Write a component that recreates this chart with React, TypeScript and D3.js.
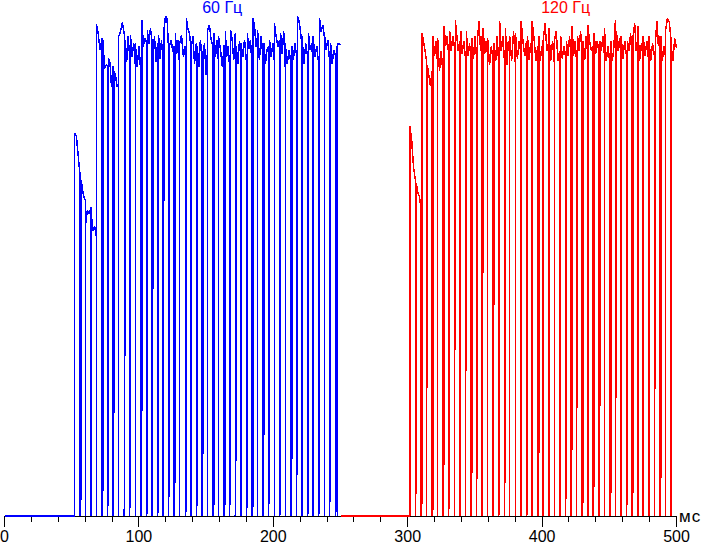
import React from 'react';
import * as d3 from 'd3';

const W = 703;
const H = 544;

// axis
const xTicksMajor = [0, 100, 200, 300, 400, 500];
const xUnit = 'мс';
const titles = ['60 Гц', '120 Гц'];

// 60 Hz (blue) trace
const blueOn = 52.1;
const blueOff = 250.6;
// [time ms, partial level reached on the way back up]
const blueDips: [number, number][] = [
  [56.35, 6], [60.3, 0], [64.3, 0], [68.3, 0], [72.5, 6], [76.7, 11], [80.7, 26], [84.9, 0],
  [89.1, 62], [93.0, 6], [97.3, 0], [101.5, 25], [105.5, 1], [109.7, 55], [113.9, 4], [117.9, 78],
  [122.1, 23], [126.3, 13], [130.3, 0], [134.5, 1.5], [138.8, 0], [142.7, 4], [146.9, 15], [151.1, 0],
  [155.1, 2.6], [159.3, 0], [163.5, 4.4], [167.5, 15.6], [171.7, 22], [176.0, 0], [179.9, 3.4], [184.2, 2.6],
  [188.3, 0], [192.3, 20], [196.5, 14], [200.8, 0], [204.7, 2], [208.9, 0], [213.2, 16], [217.1, 17],
  [221.4, 0], [225.5, 2.4], [229.6, 0], [233.7, 2.4], [238.0, 0], [241.9, 19], [246.2, 2], [247.9, 0],
];
const blueTops: number[][] = [
  [76.6, 75.9, 71.8, 67.8], [67.2, 65, 63.6, 63.2], [58.2, 61.1, 60.5, 61.7], [61.5, 57, 58, 56],
  [98.4, 96.5, 93.2, 95.5], [95.2, 89.5, 90.2, 89.9], [91.5, 90.5, 85.9, 89.9], [88.9, 88.2, 85.9, 86.2],
  [95.9, 96.9, 98.7, 96.5], [95.2, 90.9, 95.9, 92.5], [96.2, 91.9, 94.5, 90.5], [94.5, 89.9, 93.9, 88.2],
  [99.1, 93.9, 95.5, 94.9], [97.2, 94.5, 97.5, 95.2], [92.5, 95.9, 90.9, 94.5], [96.2, 91.5, 95.2, 91.2],
  [97.2, 100, 99.5, 93.2], [94.2, 95.2, 92.9, 93.9], [96.5, 92.5, 95.2, 89.9], [94.5, 96.2, 91.9, 93.9],
  [99.5, 97.5, 96.5, 93.5], [93.2, 95.9, 90.5, 94.5], [93.9, 89.9, 95.2, 91.5], [92.5, 94.5, 88.2, 93.2],
  [97.2, 98.2, 95.2, 93.9], [96.5, 91.9, 95.2, 90.5], [95.9, 93.2, 89.9, 94.2], [96.9, 91.9, 93.9, 89.9],
  [97.2, 95.2, 91.2, 96.5], [93.9, 90.5, 94.9, 92.5], [94.5, 91.9, 95.2, 91.2], [96.5, 93.5, 95.2, 89.9],
  [99.5, 97.9, 93.9, 95.9], [97.2, 91.2, 95.9, 91.9], [94.5, 90.5, 93.2, 93.9], [95.2, 91.9, 94.5, 90.9],
  [98.5, 95.9, 93.9, 95.2], [96.5, 92.5, 96.9, 89.9], [94.5, 90.5, 93.2, 90.2], [93.9, 91.2, 94.5, 92.5],
  [100, 99.2, 96.9, 93.9], [95.9, 90.5, 94.5, 91.9], [96.5, 93.2, 94.5, 90.9], [95.9, 91.9, 93.9, 90.5],
  [99.5, 96.9, 98.2, 95.9], [96.5, 93.2, 95.2, 90.9], [94.5, 90.5, 93.2, 92.2], [93.9, 91.2], [94.5, 94.2],
];

// 120 Hz (red) trace
const redOn = 301.6;
const redOff = 500;
const redDips: [number, number][] = [
  [305.7, 11], [310.0, 3.9], [313.9, 66], [318.1, 1.7], [322.3, 0], [326.3, 14.2], [330.5, 20.2], [334.7, 77],
  [338.7, 1], [342.9, 71], [347.2, 13.9], [351.1, 19.7], [355.4, 80], [359.5, 0], [363.6, 72], [367.7, 1.7],
  [372.0, 22.4], [375.9, 0], [380.2, 0], [384.4, 0], [388.4, 1], [392.6, 0], [396.8, 13.2], [400.8, 0],
  [405.0, 0], [409.2, 0], [413.1, 1], [417.4, 11.7], [421.6, 20.9], [425.6, 82], [429.8, 4.4], [434.0, 0],
  [438.0, 10], [442.2, 23.2], [446.4, 0], [450.4, 5], [454.6, 81], [458.8, 0], [462.8, 8.2], [467.0, 7.4],
  [471.2, 0], [475.2, 0], [479.4, 0], [483.6, 83], [487.6, 8.2], [491.8, 0], [496.0, 0],
];
const redTops: number[][] = [
  [78, 75.2, 69.8, 67.2], [66.5, 64.6, 63.8, 61.2], [96.5, 94.9, 93.2, 91.2], [90.2, 88, 86, 89],
  [95.9, 92, 95, 90], [95.5, 89, 93, 88], [97.9, 94, 96, 92], [97, 93, 96, 94],
  [99.2, 96, 93, 95], [97, 92.5, 95, 91.9], [96.9, 92, 94.5, 91.2], [95.5, 91.5, 96, 92],
  [95, 98.9, 93, 96], [97.5, 92.5, 95, 92], [95.5, 90.2, 93.9, 91], [94.5, 91, 96, 90.5],
  [98.9, 93, 96, 91], [97.5, 90.2, 95, 92], [96, 91, 97, 90], [96.5, 91.5, 95, 92],
  [99, 95, 92, 95], [95.9, 91.2, 94.5, 92.5], [98.9, 95.5, 91, 94], [96, 91, 94, 92],
  [95, 98.5, 93, 95], [97.5, 91, 95, 90.2], [95, 97, 91, 93], [96, 91.5, 94, 92],
  [95, 92, 96, 91], [97.9, 92, 95, 91.2], [96, 93, 97, 92], [95, 91.2, 96, 92],
  [98.2, 95, 93, 94], [96.5, 92.5, 95, 93], [95, 93, 96, 92], [97.5, 91, 94, 90.5],
  [95, 91, 94, 99.2], [97, 93, 95.5, 91], [96, 91.5, 95, 92], [95, 93, 96.5, 91],
  [96, 98.5, 93, 95], [97.9, 91, 94.5, 91.5], [96, 92, 95, 90.5], [96, 91, 94.5, 92],
  [95, 99, 94, 96], [95.9, 91, 94, 92], [97, 99.5, 98.9, 95], [94, 91, 95.5, 93.5],
];

const BLUE = '#0000ff';
const RED = '#ff0000';
const FONT = '"Liberation Sans", Arial, sans-serif';

const x = d3.scaleLinear().domain([0, 500]).range([4.5, 676.5]);
const y = d3.scaleLinear().domain([0, 100]).range([516, 16]);

function buildTrace(onT: number, offT: number, dips: [number, number][], tops: number[][], delta = 0.75) {
  const pts: [number, number][] = [[onT, 0]];
  let tRise = onT;
  for (let g = 0; g < tops.length; g++) {
    const vals = tops[g];
    const tEnd = g < dips.length ? dips[g][0] : offT;
    const n = vals.length;
    for (let j = 0; j < n; j++) {
      const t = n === 1 ? tRise : tRise + (j * (tEnd - tRise)) / (n - 1);
      pts.push([t, vals[j]]);
    }
    if (g < dips.length) {
      const [td, m] = dips[g];
      pts.push([td, 0]);
      if (m > 0) {
        tRise = td + delta;
        pts.push([tRise, m]);
      } else {
        tRise = td;
      }
    }
  }
  return pts;
}

const line = d3
  .line<[number, number]>()
  .x((d) => x(d[0]))
  .y((d) => y(d[1]));

export default function App() {
  const bluePts = buildTrace(blueOn, blueOff, blueDips, blueTops);
  const redPts = buildTrace(redOn, redOff, redDips, redTops);
  const minor = d3.range(0, 501, 20);
  const sw = 1.5;
  return (
    <svg
      width={W}
      height={H}
      style={{ position: 'absolute', left: 0, top: 0, background: '#fff' }}
      fontFamily={FONT}
    >
      <rect x={0} y={0} width={W} height={H} fill="#fff" />
      {/* axis */}
      <line x1={x(0) - 0.5} x2={x(500) + 0.5} y1={516.5} y2={516.5} stroke="#000" strokeWidth={1} shapeRendering="crispEdges" />
      {minor.map((t) => {
        const major = xTicksMajor.includes(t);
        return (
          <line
            key={t}
            x1={Math.round(x(t) - 0.5) + 0.5}
            x2={Math.round(x(t) - 0.5) + 0.5}
            y1={516}
            y2={major ? 527 : 522}
            stroke="#000"
            strokeWidth={major ? 1.6 : 1}
            shapeRendering="crispEdges"
          />
        );
      })}
      {xTicksMajor.map((t) => (
        <text key={t} x={x(t)} y={542} fontSize={16} textAnchor="middle" fill="#000">
          {t}
        </text>
      ))}
      <text x={679} y={522} fontSize={17} letterSpacing={1} fill="#000">
        {xUnit}
      </text>
      {/* baselines */}
      <path d={line([[0, 0], [blueOn, 0]]) || ''} stroke={BLUE} strokeWidth={2} fill="none" shapeRendering="crispEdges" />
      <path d={line([[blueOff, 0], [redOn, 0]]) || ''} stroke={RED} strokeWidth={2} fill="none" shapeRendering="crispEdges" />
      {/* traces */}
      <path d={line(bluePts) || ''} stroke={BLUE} strokeWidth={sw} fill="none" strokeLinejoin="miter" strokeMiterlimit={1} shapeRendering="crispEdges" />
      <path d={line(redPts) || ''} stroke={RED} strokeWidth={sw} fill="none" strokeLinejoin="miter" strokeMiterlimit={1} shapeRendering="crispEdges" />
      {/* titles */}
      <text x={x(162)} y={12.5} fontSize={16} textAnchor="middle" fill={BLUE}>
        {titles[0]}
      </text>
      <text x={x(417.5)} y={12.5} fontSize={16} textAnchor="middle" fill={RED}>
        {titles[1]}
      </text>
    </svg>
  );
}
